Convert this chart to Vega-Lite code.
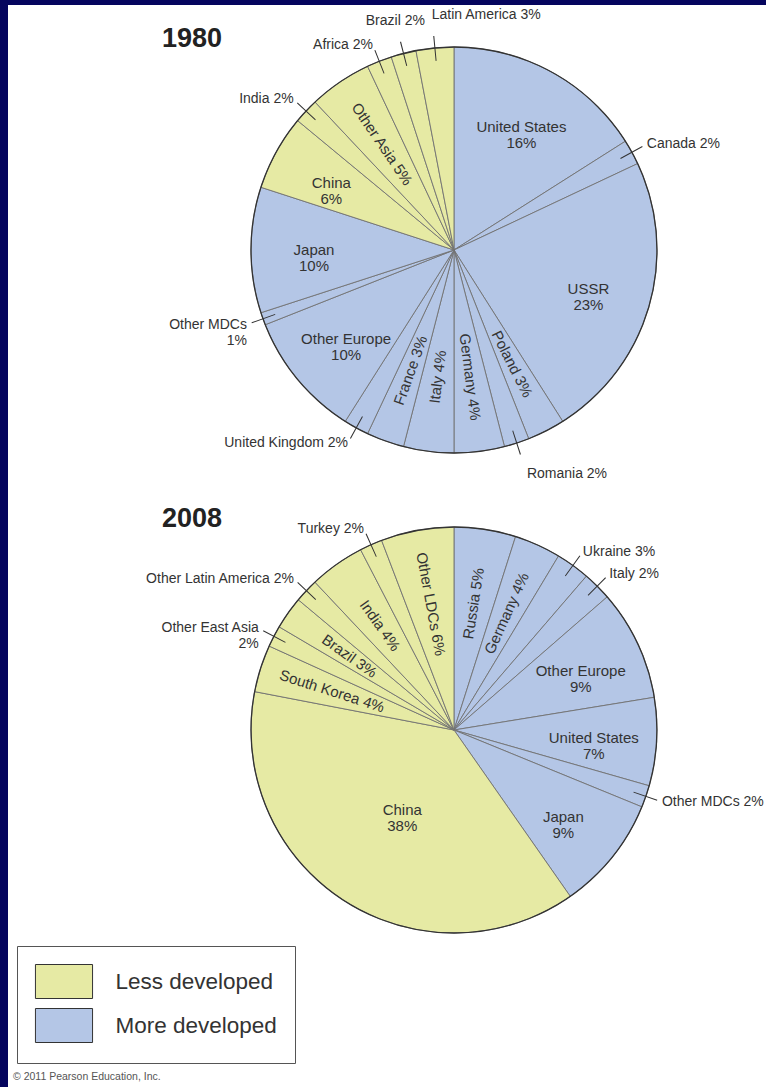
{
  "$schema": "https://vega.github.io/schema/vega-lite/v6.json",
  "width": 758,
  "height": 1082,
  "autosize": {"type": "none"},
  "padding": {"left": 8, "top": 5, "right": 0, "bottom": 0},
  "background": "#05055e",
  "view": {"fill": "white", "stroke": null},
  "title": {
    "text": "© 2011 Pearson Education, Inc.",
    "orient": "bottom",
    "anchor": "start",
    "offset": -15,
    "dx": 5,
    "fontSize": 10.5,
    "fontWeight": "normal",
    "color": "#555555",
    "font": "Liberation Sans"
  },
  "config": {"text": {"font": "Liberation Sans"}},
  "data": {
    "values": [
      {"year": "1980", "idx": 1, "name": "United States", "label": "United States\n16%", "share": 16, "group": "More developed", "place": "in"},
      {"year": "1980", "idx": 2, "name": "Canada", "label": "Canada  2%", "share": 2, "group": "More developed", "place": "out"},
      {"year": "1980", "idx": 3, "name": "USSR", "label": "USSR\n23%", "share": 23, "group": "More developed", "place": "in"},
      {"year": "1980", "idx": 4, "name": "Poland", "label": "Poland  3%", "share": 3, "group": "More developed", "place": "rad"},
      {"year": "1980", "idx": 5, "name": "Romania", "label": "Romania  2%", "share": 2, "group": "More developed", "place": "out"},
      {"year": "1980", "idx": 6, "name": "Germany", "label": "Germany  4%", "share": 4, "group": "More developed", "place": "rad"},
      {"year": "1980", "idx": 7, "name": "Italy", "label": "Italy  4%", "share": 4, "group": "More developed", "place": "rad"},
      {"year": "1980", "idx": 8, "name": "France", "label": "France  3%", "share": 3, "group": "More developed", "place": "rad"},
      {"year": "1980", "idx": 9, "name": "United Kingdom", "label": "United Kingdom  2%", "share": 2, "group": "More developed", "place": "out"},
      {"year": "1980", "idx": 10, "name": "Other Europe", "label": "Other Europe\n10%", "share": 10, "group": "More developed", "place": "in"},
      {"year": "1980", "idx": 11, "name": "Other MDCs", "label": "Other MDCs\n1%", "share": 1, "group": "More developed", "place": "out"},
      {"year": "1980", "idx": 12, "name": "Japan", "label": "Japan\n10%", "share": 10, "group": "More developed", "place": "in"},
      {"year": "1980", "idx": 13, "name": "China", "label": "China\n6%", "share": 6, "group": "Less developed", "place": "in"},
      {"year": "1980", "idx": 14, "name": "India", "label": "India  2%", "share": 2, "group": "Less developed", "place": "out"},
      {"year": "1980", "idx": 15, "name": "Other Asia", "label": "Other Asia  5%", "share": 5, "group": "Less developed", "place": "rad"},
      {"year": "1980", "idx": 16, "name": "Africa", "label": "Africa  2%", "share": 2, "group": "Less developed", "place": "out"},
      {"year": "1980", "idx": 17, "name": "Brazil", "label": "Brazil  2%", "share": 2, "group": "Less developed", "place": "out"},
      {"year": "1980", "idx": 18, "name": "Latin America", "label": "Latin America  3%", "share": 3, "group": "Less developed", "place": "out"},
      {"year": "2008", "idx": 1, "name": "Russia", "label": "Russia  5%", "share": 4.9, "group": "More developed", "place": "rad"},
      {"year": "2008", "idx": 2, "name": "Germany", "label": "Germany  4%", "share": 3.7, "group": "More developed", "place": "rad"},
      {"year": "2008", "idx": 3, "name": "Ukraine", "label": "Ukraine  3%", "share": 2.7, "group": "More developed", "place": "out"},
      {"year": "2008", "idx": 4, "name": "Italy", "label": "Italy  2%", "share": 2.3, "group": "More developed", "place": "out"},
      {"year": "2008", "idx": 5, "name": "Other Europe", "label": "Other Europe\n9%", "share": 8.8, "group": "More developed", "place": "in"},
      {"year": "2008", "idx": 6, "name": "United States", "label": "United States\n7%", "share": 7.0, "group": "More developed", "place": "in"},
      {"year": "2008", "idx": 7, "name": "Other MDCs", "label": "Other MDCs  2%", "share": 1.75, "group": "More developed", "place": "out"},
      {"year": "2008", "idx": 8, "name": "Japan", "label": "Japan\n9%", "share": 9.1, "group": "More developed", "place": "in"},
      {"year": "2008", "idx": 9, "name": "China", "label": "China\n38%", "share": 37.7, "group": "Less developed", "place": "core"},
      {"year": "2008", "idx": 10, "name": "South Korea", "label": "South Korea  4%", "share": 3.75, "group": "Less developed", "place": "rad"},
      {"year": "2008", "idx": 11, "name": "Other East Asia", "label": "Other East Asia\n2%", "share": 1.7, "group": "Less developed", "place": "out"},
      {"year": "2008", "idx": 12, "name": "Brazil", "label": "Brazil  3%", "share": 2.6, "group": "Less developed", "place": "rad"},
      {"year": "2008", "idx": 13, "name": "Other Latin America", "label": "Other Latin America  2%", "share": 1.9, "group": "Less developed", "place": "out"},
      {"year": "2008", "idx": 14, "name": "India", "label": "India  4%", "share": 4.4, "group": "Less developed", "place": "rad"},
      {"year": "2008", "idx": 15, "name": "Turkey", "label": "Turkey  2%", "share": 1.8, "group": "Less developed", "place": "out"},
      {"year": "2008", "idx": 16, "name": "Other LDCs", "label": "Other LDCs  6%", "share": 5.8, "group": "Less developed", "place": "rad"}
    ]
  },
  "transform": [
    {"stack": "share", "groupby": ["year"], "sort": [{"field": "idx", "order": "ascending"}], "as": ["t0", "t1"], "offset": "normalize"},
    {"calculate": "(datum.t0 + datum.t1) / 2", "as": "mid"},
    {"calculate": "datum.mid * 360", "as": "deg"},
    {"calculate": "datum.deg < 180 ? datum.deg - 90 : datum.deg - 270", "as": "rot"},
    {"calculate": "datum.mid - 0.0004", "as": "lt0"},
    {"calculate": "datum.mid + 0.0004", "as": "lt1"}
  ],
  "encoding": {
    "x": {"datum": 0, "type": "quantitative", "scale": {"domain": [-2.197, 1.537], "nice": false, "zero": false}, "axis": null},
    "y": {"field": "year", "type": "nominal", "scale": {"type": "point", "domain": ["1980", "2008"], "range": [245, 725], "padding": 0}, "axis": null}
  },
  "layer": [
    {
      "mark": {"type": "arc", "radius": 203, "stroke": "#727272", "strokeWidth": 0.9},
      "encoding": {
        "theta": {"field": "t0", "type": "quantitative", "scale": {"domain": [0, 1], "range": [0, 6.283185307179586]}},
        "theta2": {"field": "t1"},
        "color": {
          "field": "group",
          "type": "nominal",
          "scale": {"domain": ["Less developed", "More developed"], "range": ["#e6eaa4", "#b4c6e6"]},
          "legend": {
            "orient": "none",
            "legendX": 9,
            "legendY": 941,
            "title": null,
            "symbolType": "M-1.68,-1L1.68,-1L1.68,1L-1.68,1Z",
            "symbolSize": 1156,
            "symbolOffset": 11.5,
            "symbolStrokeColor": "#333333",
            "symbolStrokeWidth": 1,
            "symbolOpacity": 1,
            "labelFontSize": 22.5,
            "labelFont": "Liberation Sans",
            "labelColor": "#333333",
            "labelOffset": 34,
            "labelLimit": 400,
            "rowPadding": 5,
            "padding": 18,
            "strokeColor": "#555555",
            "fillColor": "white"
          }
        }
      }
    },
    {
      "transform": [{"aggregate": [{"op": "count", "as": "n"}], "groupby": ["year"]}],
      "mark": {"type": "arc", "radius": 203, "fillOpacity": 0, "stroke": "#333333", "strokeWidth": 1.3},
      "encoding": {
        "theta": {"datum": 0, "type": "quantitative", "scale": {"domain": [0, 1], "range": [0, 6.283185307179586]}},
        "theta2": {"datum": 1}
      }
    },
    {
      "transform": [{"filter": "datum.place == 'out'"}],
      "mark": {"type": "arc", "radius": 215, "radius2": 190, "fill": "#333333", "strokeWidth": 0},
      "encoding": {
        "theta": {"field": "lt0", "type": "quantitative", "scale": {"domain": [0, 1], "range": [0, 6.283185307179586]}},
        "theta2": {"field": "lt1"}
      }
    },
    {
      "transform": [{"aggregate": [{"op": "count", "as": "n"}], "groupby": ["year"]}],
      "mark": {"type": "text", "fontSize": 27, "fontWeight": "bold", "color": "#222222", "dx": -262, "dy": -211, "align": "center", "baseline": "middle"},
      "encoding": {"text": {"field": "year"}}
    },
    {
      "transform": [{"filter": "datum.place == 'in'"}],
      "mark": {"type": "text", "radius": 140, "fontSize": 15, "lineBreak": "\n", "lineHeight": 16, "color": "#333333", "align": "center", "baseline": "middle"},
      "encoding": {
        "theta": {"field": "mid", "type": "quantitative", "stack": null, "scale": {"domain": [0, 1], "range": [0, 6.283185307179586]}},
        "text": {"field": "label"}
      }
    },
    {
      "transform": [{"filter": "datum.place == 'core'"}],
      "mark": {"type": "text", "radius": 95, "fontSize": 15, "lineBreak": "\n", "lineHeight": 16, "color": "#333333", "align": "center", "baseline": "middle"},
      "encoding": {
        "theta": {"field": "mid", "type": "quantitative", "stack": null, "scale": {"domain": [0, 1], "range": [0, 6.283185307179586]}},
        "text": {"field": "label"}
      }
    },
    {
      "transform": [{"filter": "datum.place == 'rad'"}],
      "mark": {"type": "text", "radius": 128, "fontSize": 15, "color": "#333333", "align": "center", "baseline": "middle"},
      "encoding": {
        "theta": {"field": "mid", "type": "quantitative", "stack": null, "scale": {"domain": [0, 1], "range": [0, 6.283185307179586]}},
        "angle": {"field": "rot", "type": "quantitative", "scale": null},
        "text": {"field": "label"}
      }
    },
    {
      "transform": [{"filter": "datum.place == 'out'"}],
      "mark": {
        "type": "text",
        "radius": {"expr": "abs(cos(datum.mid * 2 * PI)) > 0.94 ? 236 : 220"},
        "align": {"expr": "(datum.deg < 180 || datum.deg > 350) ? 'left' : (datum.deg > 340 ? 'center' : 'right')"},
        "baseline": "middle",
        "fontSize": 14,
        "lineBreak": "\n",
        "lineHeight": 16,
        "color": "#333333"
      },
      "encoding": {
        "theta": {"field": "mid", "type": "quantitative", "stack": null, "scale": {"domain": [0, 1], "range": [0, 6.283185307179586]}},
        "text": {"field": "label"}
      }
    }
  ]
}
